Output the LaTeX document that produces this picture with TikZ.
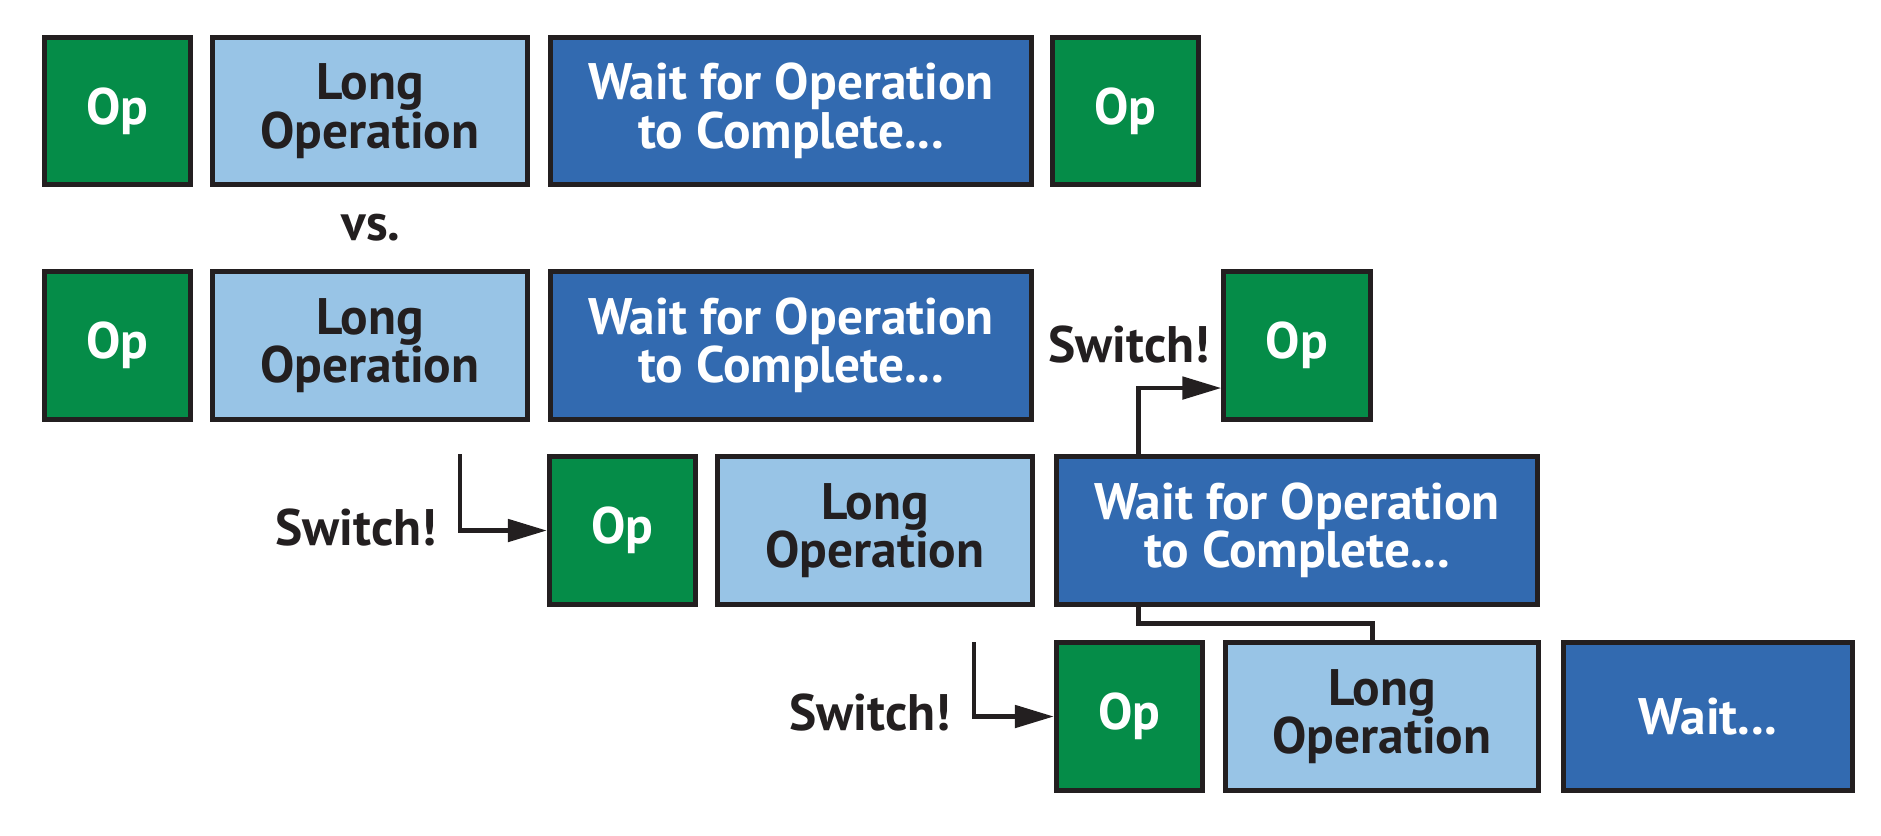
\documentclass[tikz,border=0pt]{standalone}
\usepackage{fontspec}
\setmainfont{PT Sans}
\usepackage{xcolor}
\usetikzlibrary{arrows.meta,calc}
\definecolor{opgreen}{RGB}{5,140,72}
\definecolor{longblue}{RGB}{152,196,230}
\definecolor{waitblue}{RGB}{50,106,176}
\definecolor{inkdark}{RGB}{35,31,32}
\tikzset{
  block/.style={
    draw = inkdark,
    line width = 1.42pt,
    minimum height = 1.47cm,
    inner sep = 0pt,
    align = center,
    font = \bfseries\fontsize{14.6}{13.8}\selectfont
  },
  opbox/.style={
    block,
    fill = opgreen,
    text = white,
    minimum width = 1.46cm
  },
  longbox/.style={
    block,
    fill = longblue,
    text = inkdark,
    minimum width = 3.15cm
  },
  waitbox/.style={
    block,
    fill = waitblue,
    text = white,
    minimum width = 4.81cm
  },
  switchlabel/.style={
    text = inkdark,
    inner sep = 0pt,
    font = \bfseries\fontsize{14.6}{13.8}\selectfont
  },
  link/.style={
    draw = inkdark,
    line width = 1.4pt
  },
  switcharrow/.style={
    link,
    -{Triangle[length=0.39cm, width=0.22cm]}
  }
}

\begin{document}
\begin{tikzpicture}[x=0.01cm, y=-0.01cm]
        \useasboundingbox (0,0) rectangle (1881,835);
        \node[opbox] (op1) at (117.5,111) {Op};
        \node[longbox] (long1) at (370,111) {Long\\Operation};
        \node[waitbox] (wait1) at (791,111) {Wait for Operation\\to Complete...};
        \node[opbox] (op1b) at (1125.5,111) {Op};
        \node[switchlabel] (vs) at (371,228) {vs.};
        \node[opbox] (op2) at (117.5,345.5) {Op};
        \node[longbox] (long2) at (370,345.5) {Long\\Operation};
        \node[waitbox] (wait2) at (791,345.5) {Wait for Operation\\to Complete...};
        \node[opbox] (op2b) at (1297,345.5) {Op};
        \node[switchlabel] (sw2) at (1129,345) {Switch!};
        \node[opbox] (op3) at (622.5,530.5) {Op};
        \node[longbox] (long3) at (875,530.5) {Long\\Operation};
        \node[waitbox] (wait3) at (1297,530.5) {Wait for Operation\\to Complete...};
        \node[switchlabel] (sw1) at (356,528) {Switch!};
        \node[opbox] (op4) at (1129.5,716.5) {Op};
        \node[longbox, minimum width=3.13cm] (long4) at (1382,716.5) {Long\\Operation};
        \node[waitbox, minimum width=2.89cm] (wait4) at (1708,716.5) {Wait...};
        \node[switchlabel] (sw3) at (870,713) {Switch!};
        \coordinate (from1) at (460,454);
        \coordinate (from3) at (974,642);
        \draw[switcharrow] (from1) |- (op3.west);
        \draw[switcharrow] ([xshift=0.845cm]wait3.north west) |- ([yshift=0.335cm]op2b.south west);
        \draw[link] ([xshift=0.845cm]wait3.south west) -- ++(0,-0.17cm) -| ([xshift=-0.095cm]long4.north);
        \draw[switcharrow] (from3) |- (op4.west);
    \end{tikzpicture}
\end{document}
